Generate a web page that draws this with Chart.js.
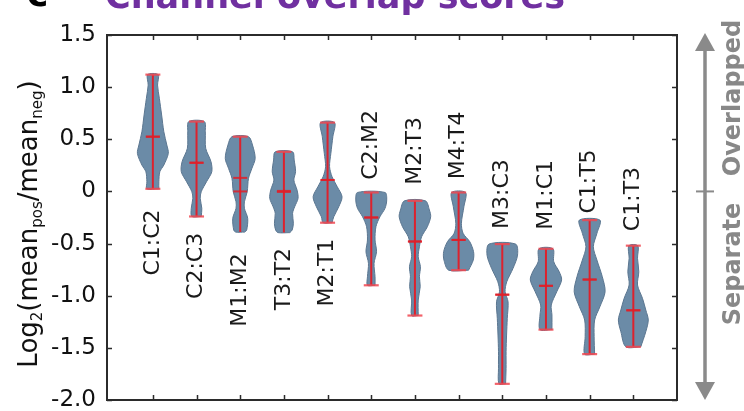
<!DOCTYPE html>
<html><head><meta charset="utf-8">
<script src="https://cdn.jsdelivr.net/npm/chart.js@4.4.1/dist/chart.umd.min.js"></script>
<style>html,body{margin:0;padding:0;background:#fff;overflow:hidden}canvas{display:block}</style>
</head><body>
<canvas id="c" width="744" height="411" style="width:744px;height:411px"></canvas>
<script>
// ---- data ----
const categories = ['C1:C2','C2:C3','M1:M2','T3:T2','M2:T1','C2:M2','M2:T3','M4:T4','M3:C3','M1:C1','C1:T5','C1:T3'];
const tickValues = [1.5, 1.0, 0.5, 0, -0.5, -1.0, -1.5, -2.0];
const tickLabels = ['1.5','1.0','0.5','0','-0.5','-1.0','-1.5','-2.0'];
const maxVals = [1.12, 0.67, 0.525, 0.38, 0.66, -0.01, -0.09, -0.01, -0.505, -0.55, -0.275, -0.52];
const minVals = [0.025, -0.24, -0.39, -0.395, -0.30, -0.90, -1.19, -0.755, -1.845, -1.325, -1.56, -1.49];
const means   = [0.525, 0.275, 0.13, 0.005, 0.11, -0.25, -0.48, -0.465, -0.99, -0.905, -0.845, -1.14];
const medians = [0.525, 0.275, 0.0, -0.005, 0.11, -0.25, -0.48, -0.465, -0.99, -0.905, -0.845, -1.14];
const hasMinCap = [true, true, false, false, true, true, true, true, true, true, true, true];
// density profiles: [value, relative half-width]
const densC1C2 = [[0.025,6],[0.093,6],[0.189,7],[0.253,11],[0.365,15.5],[0.445,14],[0.572,11],[0.733,8.8],[0.893,6.5],[1.02,4.7],[1.12,5.3]];
const densC2C3 = [[-0.24,4.7],[-0.162,5.3],[-0.066,3.7],[-0.003,4.7],[0.093,10],[0.189,15.3],[0.285,14.5],[0.413,9.2],[0.572,8.8],[0.67,7.8]];
const densM1M2 = [[-0.39,4.5],[-0.37,6.5],[-0.258,7.5],[-0.162,4.2],[-0.099,4.2],[-0.003,7],[0.126,8.3],[0.221,11.7],[0.317,15],[0.445,12.3],[0.525,8.3]];
const densT3T2 = [[-0.395,6],[-0.37,8.3],[-0.306,9.5],[-0.21,8.7],[-0.147,10.8],[-0.066,14.2],[0.013,13.2],[0.109,10],[0.189,11.7],[0.301,10.3],[0.38,8.7]];
const densM2T1 = [[-0.30,4.5],[-0.243,6.2],[-0.147,11.2],[-0.051,14.5],[0.045,9.7],[0.141,4.5],[0.237,2],[0.365,3.3],[0.525,5.3],[0.66,7]];
const densC2M2 = [[-0.90,3.8],[-0.818,3.8],[-0.689,2.8],[-0.578,5.3],[-0.466,3.8],[-0.338,4.7],[-0.243,8.7],[-0.162,13.8],[-0.082,15.5],[-0.01,13.8]];
const densM2T3 = [[-1.19,3.3],[-1.041,3.3],[-0.913,5.3],[-0.818,4.5],[-0.722,5.5],[-0.626,3.3],[-0.530,4.5],[-0.434,6.7],[-0.338,12.5],[-0.243,15.8],[-0.178,14.5],[-0.09,10.5]];
const densM4T4 = [[-0.755,10],[-0.658,14.7],[-0.578,15],[-0.482,11.2],[-0.402,4.5],[-0.306,2.8],[-0.147,5.3],[-0.01,7]];
const densM3C3 = [[-1.845,3.3],[-1.696,3.8],[-1.537,3.8],[-1.377,4.3],[-1.217,5],[-1.058,5.8],[-0.962,2.8],[-0.866,4.5],[-0.737,10.8],[-0.610,15.3],[-0.505,13.3]];
const densM1C1 = [[-1.325,6],[-1.185,6],[-1.089,5.3],[-0.962,10.8],[-0.849,15.7],[-0.770,13.3],[-0.674,7.8],[-0.55,7]];
const densC1T5 = [[-1.56,5],[-1.393,4.5],[-1.233,5],[-1.105,10.3],[-0.962,15.5],[-0.818,12.7],[-0.658,7.3],[-0.530,3.7],[-0.402,7.3],[-0.275,10.3]];
const densC1T3 = [[-1.49,7.5],[-1.345,12.5],[-1.233,15],[-1.137,12.5],[-1.025,9.2],[-0.897,4.2],[-0.770,5.5],[-0.641,4.2],[-0.52,4.5]];
const densities = [densC1C2, densC2C3, densM1M2, densT3T2, densM2T1, densC2M2, densM2T3, densM4T4, densM3C3, densM1C1, densC1T5, densC1T3];
// label anchor (value axis) for each category name
const labelY = [-0.49, -0.714, -0.945, -0.84, -0.778, 0.447, 0.389, 0.442, -0.025, -0.033, 0.095, -0.073];

// ---- build datasets ----
const densToX = 1 / 43.8;
const FONT = "'DejaVu Sans', sans-serif";
const datasets = [];
densities.forEach((prof, i) => {
  const c = i + 1;
  const pts = [];
  prof.forEach(([v, w]) => pts.push({x: c + w * densToX, y: v}));
  for (let k = prof.length - 1; k >= 0; k--) pts.push({x: c - prof[k][1] * densToX, y: prof[k][0]});
  pts.push({...pts[0]});
  datasets.push({type: 'line', data: pts, fill: 'shape', backgroundColor: '#6b8ba7',
    borderColor: '#5b7690', borderWidth: 1, pointRadius: 0, tension: 0.3, order: 3});
});
const whisker = [];
categories.forEach((_, i) => { whisker.push({x: i+1, y: minVals[i]}, {x: i+1, y: maxVals[i]}, {x: i+1, y: null}); });
datasets.push({type: 'line', data: whisker, borderColor: 'rgba(230,25,35,0.92)', borderWidth: 2, pointRadius: 0, fill: false, spanGaps: false, order: 2});
const caps = [];
categories.forEach((_, i) => { caps.push({x: i+1, y: maxVals[i]}); if (hasMinCap[i]) caps.push({x: i+1, y: minVals[i]}); });
datasets.push({type: 'line', data: caps, showLine: false, pointStyle: 'line', pointRadius: 7.5,
  pointBorderWidth: 2.2, pointBorderColor: 'rgba(240,70,80,0.85)', order: 1});
const centers = [];
categories.forEach((_, i) => { centers.push({x: i+1, y: means[i]}, {x: i+1, y: medians[i]}); });
datasets.push({type: 'line', data: centers, showLine: false, pointStyle: 'line', pointRadius: 7,
  pointBorderWidth: 2, pointBorderColor: 'rgba(225,30,40,0.85)', order: 1});

// ---- plugins ----
const boxPlugin = {
  id: 'box',
  afterDatasetsDraw(chart) {
    const {ctx, chartArea: a, scales: {x, y}} = chart;
    ctx.save();
    ctx.strokeStyle = '#2b2b2b';
    ctx.lineWidth = 1.5;
    const tl = 5;
    ctx.beginPath();
    tickValues.forEach(v => {
      const py = Math.round(y.getPixelForValue(v)) + 0.5;
      ctx.moveTo(a.left, py); ctx.lineTo(a.left + tl, py);
      ctx.moveTo(a.right, py); ctx.lineTo(a.right - tl, py);
    });
    categories.forEach((_, i) => {
      const px = Math.round(x.getPixelForValue(i + 1)) + 0.5;
      ctx.moveTo(px, a.bottom); ctx.lineTo(px, a.bottom - tl);
      ctx.moveTo(px, a.top); ctx.lineTo(px, a.top + tl);
    });
    ctx.stroke();
    ctx.lineWidth = 2;
    ctx.strokeRect(a.left, a.top, a.right - a.left, a.bottom - a.top);
    ctx.restore();
  }
};
const textPlugin = {
  id: 'texts',
  afterDraw(chart) {
    const {ctx, scales: {x, y}} = chart;
    ctx.save();
    // category labels
    ctx.fillStyle = '#1a1a1a';
    ctx.font = '22px ' + FONT;
    ctx.textAlign = 'center'; ctx.textBaseline = 'middle';
    categories.forEach((name, i) => {
      ctx.save();
      ctx.translate(x.getPixelForValue(i + 1), y.getPixelForValue(labelY[i]));
      ctx.rotate(-Math.PI / 2);
      ctx.fillText(name, 0, 0);
      ctx.restore();
    });
    // y axis title with subscripts
    const parts = [['Log', 26, 0], ['2', 15, 5], ['(mean', 26, 0], ['pos', 15, 5], ['/mean', 26, 0], ['neg', 15, 5], [')', 26, 0]];
    let total = 0;
    parts.forEach(p => { ctx.font = p[1] + 'px ' + FONT; p.push(ctx.measureText(p[0]).width); total += p[3]; });
    ctx.save();
    ctx.translate(37, 224);
    ctx.rotate(-Math.PI / 2);
    ctx.textAlign = 'left'; ctx.textBaseline = 'alphabetic';
    ctx.fillStyle = '#111';
    let cx = -total / 2;
    parts.forEach(p => { ctx.font = p[1] + 'px ' + FONT; ctx.fillText(p[0], cx, p[2]); cx += p[3]; });
    ctx.restore();
    // top title (cut off)
    ctx.textAlign = 'left'; ctx.textBaseline = 'alphabetic';
    ctx.fillStyle = '#7030a0';
    ctx.font = 'bold 35px ' + FONT;
    ctx.fillText('Channel overlap scores', 105, 8);
    ctx.fillStyle = '#000';
    ctx.font = 'bold 36px ' + FONT;
    ctx.fillText('c', 27, 6);
    // right annotation
    const ax = 705, yTop = 33, yBot = 400, yMid = y.getPixelForValue(0);
    ctx.strokeStyle = '#8a8a8a'; ctx.fillStyle = '#8a8a8a';
    ctx.lineWidth = 3.5;
    ctx.beginPath(); ctx.moveTo(ax, yTop + 12); ctx.lineTo(ax, yBot - 12); ctx.stroke();
    ctx.lineWidth = 2;
    ctx.beginPath(); ctx.moveTo(ax - 9, yMid); ctx.lineTo(ax + 9, yMid); ctx.stroke();
    ctx.beginPath(); ctx.moveTo(ax, yTop); ctx.lineTo(ax + 10, yTop + 18); ctx.lineTo(ax - 10, yTop + 18); ctx.closePath(); ctx.fill();
    ctx.beginPath(); ctx.moveTo(ax, yBot); ctx.lineTo(ax + 10, yBot - 18); ctx.lineTo(ax - 10, yBot - 18); ctx.closePath(); ctx.fill();
    ctx.font = 'bold 24px ' + FONT;
    ctx.fillStyle = '#888';
    ctx.textAlign = 'center'; ctx.textBaseline = 'alphabetic';
    [['Overlapped', 98], ['Separate', 264]].forEach(([t, cy]) => {
      ctx.save(); ctx.translate(740, cy); ctx.rotate(-Math.PI / 2); ctx.fillText(t, 0, 0); ctx.restore();
    });
    ctx.restore();
  }
};

new Chart(document.getElementById('c'), {
  type: 'line',
  data: {datasets},
  options: {
    responsive: false, animation: false, devicePixelRatio: 1,
    layout: {padding: {left: 0, right: 67, top: 35, bottom: 11}},
    plugins: {legend: {display: false}, tooltip: {enabled: false}, title: {display: false}},
    scales: {
      x: {type: 'linear', min: -0.05, max: 13, grid: {display: false, drawTicks: false}, border: {display: false},
          ticks: {display: false}, afterFit: s => { s.height = 0; s.paddingLeft = 0; s.paddingRight = 0; }},
      y: {type: 'linear', min: -2, max: 1.5, grid: {display: false, drawTicks: false}, border: {display: false},
          afterBuildTicks: s => { s.ticks = tickValues.map(v => ({value: v})); },
          ticks: {padding: 11, color: '#111', font: {family: FONT, size: 23},
                  callback: v => { const k = tickValues.findIndex(t => Math.abs(t - v) < 1e-6); return k >= 0 ? tickLabels[k] : ''; }},
          afterFit: s => { s.width = 107; s.paddingTop = 0; s.paddingBottom = 0; }}
    }
  },
  plugins: [boxPlugin, textPlugin]
});
</script>
</body></html>
